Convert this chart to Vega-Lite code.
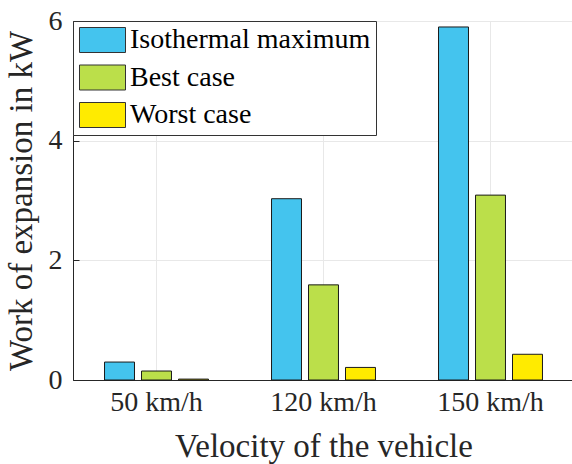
{
  "$schema": "https://vega.github.io/schema/vega-lite/v6.json",
  "width": 501,
  "height": 359,
  "autosize": {"type": "none"},
  "padding": {"left": 73, "top": 21, "right": 0, "bottom": 84},
  "background": "white",
  "config": {
    "font": "Liberation Serif",
    "view": {"stroke": "#262626", "strokeWidth": 1},
    "axis": {
      "domainColor": "#262626",
      "tickColor": "#262626",
      "labelColor": "#262626",
      "titleColor": "#262626",
      "labelFont": "Liberation Serif",
      "titleFont": "Liberation Serif",
      "labelFontSize": 28,
      "titleFontSize": 33,
      "titleFontWeight": "normal",
      "gridColor": "#e8e8e8",
      "gridWidth": 1
    }
  },
  "data": {
    "values": [
      {"velocity": "50 km/h", "series": "Isothermal maximum", "value": 0.30},
      {"velocity": "50 km/h", "series": "Best case", "value": 0.15},
      {"velocity": "50 km/h", "series": "Worst case", "value": 0.015},
      {"velocity": "120 km/h", "series": "Isothermal maximum", "value": 3.03},
      {"velocity": "120 km/h", "series": "Best case", "value": 1.59},
      {"velocity": "120 km/h", "series": "Worst case", "value": 0.21},
      {"velocity": "150 km/h", "series": "Isothermal maximum", "value": 5.90},
      {"velocity": "150 km/h", "series": "Best case", "value": 3.09},
      {"velocity": "150 km/h", "series": "Worst case", "value": 0.43}
    ]
  },
  "mark": {"type": "bar", "stroke": "#1a1a1a", "strokeWidth": 1, "opacity": 1},
  "encoding": {
    "x": {
      "field": "velocity",
      "type": "nominal",
      "sort": ["50 km/h", "120 km/h", "150 km/h"],
      "scale": {"paddingInner": 0, "paddingOuter": 0},
      "axis": {
        "title": "Velocity of the vehicle",
        "labelAngle": 0,
        "grid": true,
        "bandPosition": 0.5,
        "tickSize": -6,
        "labelPadding": 14,
        "titlePadding": 14
      }
    },
    "xOffset": {
      "field": "series",
      "type": "nominal",
      "sort": ["Isothermal maximum", "Best case", "Worst case"],
      "scale": {"paddingInner": 0.19, "paddingOuter": 0.852}
    },
    "y": {
      "field": "value",
      "type": "quantitative",
      "scale": {"domain": [0, 6], "nice": false},
      "axis": {
        "title": "Work of expansion in kW",
        "values": [0, 2, 4, 6],
        "format": "d",
        "grid": true,
        "tickSize": -6,
        "labelPadding": 17,
        "titlePadding": 10
      }
    },
    "color": {
      "field": "series",
      "type": "nominal",
      "sort": ["Isothermal maximum", "Best case", "Worst case"],
      "scale": {"range": ["#44c4ee", "#bbdf4a", "#ffeb00"]},
      "legend": {
        "title": null,
        "orient": "none",
        "legendX": 0,
        "legendY": 0,
        "symbolType": "M-1,-1H2.68V1H-1Z",
        "symbolSize": 625,
        "symbolStrokeColor": "#333333",
        "symbolStrokeWidth": 1,
        "symbolOpacity": 1,
        "labelFont": "Liberation Serif",
        "labelFontSize": 28,
        "labelColor": "#000000",
        "labelOffset": 24,
        "labelLimit": 400,
        "strokeColor": "#333333",
        "fillColor": "white",
        "padding": 5,
        "rowPadding": 7.5
      }
    }
  }
}
